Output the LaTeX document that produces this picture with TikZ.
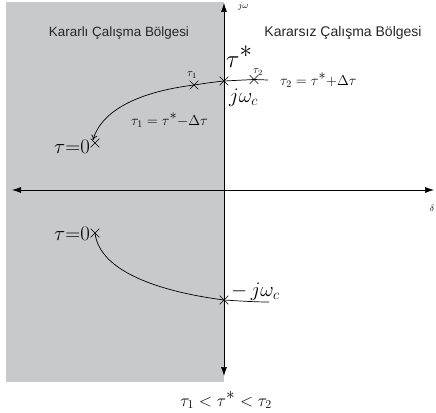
\documentclass[tikz,border=0pt]{standalone}
\usepackage{fontspec}
\newfontfamily\arialf{Liberation Sans}
\usetikzlibrary{shapes.misc,arrows.meta}
\definecolor{regiongrey}{RGB}{200,201,203}
\newcommand{\tstar}{\tau^{\textstyle *}}
\begin{document}
\begin{tikzpicture}[x=1pt,y=-1pt,
  regionlabel/.style={font=\arialf\fontsize{13.4}{15}\selectfont, text=black!85, inner sep=0},
  xmark/.style={cross out, draw, minimum size=8pt, inner sep=0pt, line width=0.6pt},
  axis/.style={line width=0.7pt, {Latex[length=9pt,width=6pt]}-{Latex[length=9pt,width=6pt]}},
  curve/.style={line width=0.7pt},
  lbl/.style={inner sep=0pt}]
\useasboundingbox (0,0) rectangle (436,412);
\fill[white] (0,0) rectangle (436,412);
\fill[regiongrey] (6,2) rectangle (224,382);
% axes
\coordinate (xl) at (12,190);
\coordinate (xr) at (434,190);
\coordinate (yt) at (224,3);
\coordinate (yb) at (224,376);
\draw[axis] (xl) -- (xr);
\draw[axis] (yt) -- (yb);
% crosses
\node[xmark] (cu) at (224,81) {};
\node[xmark] (t1) at (194,85) {};
\node[xmark] (t2) at (254,79.5) {};
\node[xmark] (z1) at (95,143) {};
\node[xmark] (z2) at (95,233) {};
\node[xmark] (cl) at (224,300) {};
\coordinate (ue) at (268,80);
\coordinate (le) at (269,302);
\coordinate (tip) at (93,140);
% upper locus
\draw[curve,-{To[length=5pt,width=6pt]}] (ue) -- (t2.center) .. controls (244,80) and (234,80.5) .. (cu.center)
  .. controls (214,82) and (204,83.5) .. (t1.center)
  .. controls (130,93) and (100,115) .. (tip);
% lower locus
\draw[curve] (z2.center) .. controls (100,275) and (170,293) .. (cl.center)
  .. controls (240,301) and (255,302) .. (le);
% region labels
\node[regionlabel] (stab) at (119,33) {Kararlı Çalışma Bölgesi};
\node[regionlabel, font=\arialf\fontsize{14}{16}\selectfont] (unstab) at (343,33) {Kararsız Çalışma Bölgesi};
% axis labels
\node[lbl, font=\fontsize{9}{10}\selectfont, anchor=west] (jw) at (238,6) {$j\omega$};
\node[lbl, font=\fontsize{9}{10}\selectfont] (dl) at (432,208) {$\delta$};
% math labels
\node[lbl, font=\fontsize{24}{26}\selectfont, anchor=base west] (ts) at (226,67) {$\tstar$};
\node[lbl, font=\fontsize{11}{12}\selectfont, anchor=base] (t1l) at (192,77) {$\tau_1$};
\node[lbl, font=\fontsize{11}{12}\selectfont, anchor=base] (t2l) at (258,74) {$\tau_2$};
\node[lbl, font=\fontsize{14}{16}\selectfont, anchor=base west] (t2eq) at (280,85) {$\tau_2=\tstar{+}\Delta\tau$};
\node[lbl, font=\fontsize{14}{16}\selectfont, anchor=base west] (t1eq) at (131,125) {$\tau_1=\tstar{-}\Delta\tau$};
\node[lbl, font=\fontsize{20}{22}\selectfont, anchor=base west] (jwc) at (229,102) {$j\omega_c$};
\node[lbl, font=\fontsize{20}{22}\selectfont, anchor=base east] (z1l) at (90,153) {$\tau{=}0$};
\node[lbl, font=\fontsize{20}{22}\selectfont, anchor=base east] (z2l) at (90,240) {$\tau{=}0$};
\node[lbl, font=\fontsize{21}{23}\selectfont, anchor=base west] (mjwc) at (231,296) {$-\,j\omega_c$};
\node[lbl, font=\fontsize{18}{20}\selectfont, anchor=base] (ineq) at (226,406) {$\tau_1<\tstar<\tau_2$};
\end{tikzpicture}
\end{document}
